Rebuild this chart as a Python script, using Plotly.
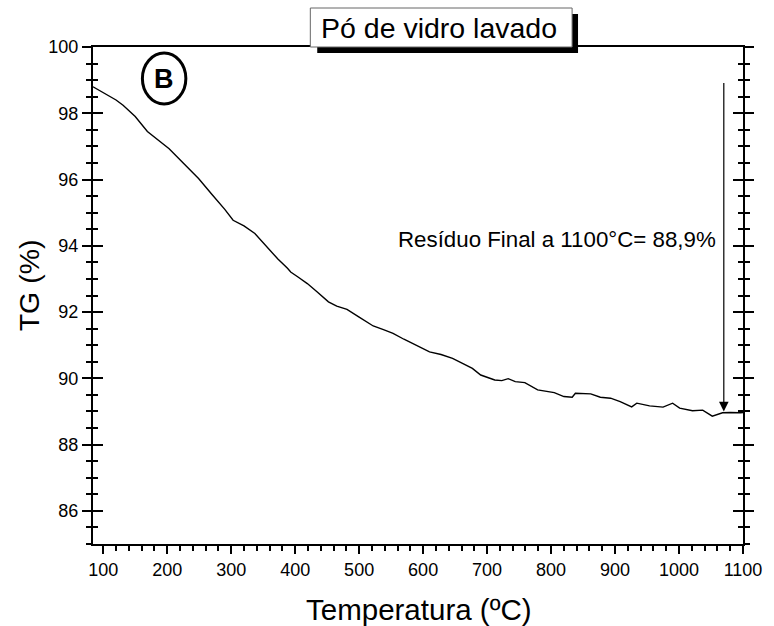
import plotly.graph_objects as go

# ---- data ----
temperature = [84, 100, 120, 131, 150, 169, 185, 203, 225, 249, 270, 290, 303, 320, 337,
               360, 373, 388, 393, 405, 419, 435, 452, 465, 481, 500, 522, 538, 553, 570,
               584, 597, 610, 628, 646, 660, 677, 690, 705, 712, 723, 733, 744, 759, 779,
               805, 820, 833, 838, 862, 877, 893, 908, 926, 934, 954, 975, 990, 1001, 1021,
               1037, 1052, 1068, 1080, 1096, 1100]
tg = [98.80, 98.62, 98.40, 98.24, 97.90, 97.45, 97.20, 96.93, 96.50, 96.03, 95.55, 95.10, 94.77,
      94.60, 94.37, 93.87, 93.60, 93.32, 93.21, 93.05, 92.86, 92.60, 92.31, 92.18, 92.08, 91.85,
      91.58, 91.47, 91.36, 91.18, 91.05, 90.92, 90.80, 90.72, 90.60, 90.47, 90.30, 90.10, 90.00,
      89.95, 89.93, 89.99, 89.90, 89.87, 89.65, 89.57, 89.45, 89.43, 89.55, 89.53, 89.43, 89.40,
      89.30, 89.14, 89.25, 89.17, 89.13, 89.25, 89.10, 89.02, 89.04, 88.86, 88.96, 88.97, 88.96,
      88.97]
x_ticks = list(range(100, 1101, 100))
y_ticks = list(range(86, 101, 2))
x_range = [84, 1100]
y_range = [85, 100]
arrow_x = 1070
arrow_tip = 89.0
arrow_top = 98.96

title_text = "Pó de vidro lavado"
x_title = "Temperatura (ºC)"
y_title = "TG (%)"
residue_text = "Resíduo Final a 1100°C= 88,9%"
panel_label = "B"

# ---- layout geometry (pixels) ----
W_FIG, H_FIG = 774, 626
L, R, T, B = 93, 751, 47, 544
PW, PH = R - L, B - T


def px(x):
    return (x - L) / PW


def py(y):
    return (B - y) / PH


FONT = "Liberation Sans, Arial, sans-serif"

fig = go.Figure()
fig.add_trace(go.Scatter(x=temperature, y=tg, mode="lines",
                         line=dict(color="black", width=1.4),
                         showlegend=False, hoverinfo="skip"))
fig.add_trace(go.Scatter(x=temperature, y=tg, mode="lines", yaxis="y2",
                         line=dict(color="rgba(0,0,0,0)", width=0),
                         showlegend=False, hoverinfo="skip"))

fig.update_layout(
    width=W_FIG, height=H_FIG,
    margin=dict(l=L, r=W_FIG - R, t=T, b=H_FIG - B, pad=0),
    paper_bgcolor="white", plot_bgcolor="white",
    xaxis=dict(range=x_range, tickvals=x_ticks, ticks="outside", ticklen=8,
               tickwidth=2, tickcolor="black",
               minor=dict(dtick=20, tick0=0, ticks="outside", ticklen=5,
                          tickwidth=1.5, tickcolor="black"),
               showline=True, linecolor="black", linewidth=2, mirror=True,
               showgrid=False, zeroline=False,
               tickfont=dict(family=FONT, size=18, color="black")),
    yaxis=dict(range=y_range, tickvals=y_ticks, ticks="outside", ticklen=9,
               tickwidth=2, tickcolor="black",
               minor=dict(dtick=0.5, tick0=0, ticks="outside", ticklen=5,
                          tickwidth=1.5, tickcolor="black"),
               showline=True, linecolor="black", linewidth=2, mirror="ticks",
               showgrid=False, zeroline=False,
               tickfont=dict(family=FONT, size=18, color="black")),
    yaxis2=dict(range=y_range, overlaying="y", side="left", tickvals=y_ticks,
                ticks="inside", ticklen=10, tickwidth=2, tickcolor="black",
                minor=dict(dtick=0.5, tick0=0, ticks="inside", ticklen=5,
                           tickwidth=1.5, tickcolor="black"),
                showline=True, linecolor="black", linewidth=2, mirror="ticks",
                showgrid=False, zeroline=False, showticklabels=False),
    shapes=[
        dict(type="rect", xref="paper", yref="paper",
             x0=px(320), x1=px(584), y0=py(53), y1=py(14),
             fillcolor="black", line=dict(width=0), layer="above"),
        dict(type="rect", xref="paper", yref="paper",
             x0=px(313), x1=px(578), y0=py(47), y1=py(8),
             fillcolor="white", line=dict(color="#666666", width=1), layer="above"),
        dict(type="circle", xref="paper", yref="paper",
             x0=px(143), x1=px(187), y0=py(104), y1=py(53),
             line=dict(color="black", width=3), layer="above"),
    ],
    annotations=[
        dict(text=x_title, xref="paper", yref="paper", x=px(423), y=py(609),
             showarrow=False, xanchor="center", yanchor="middle",
             font=dict(family=FONT, size=29.5, color="black")),
        dict(text=y_title, xref="paper", yref="paper", x=px(28.5), y=py(285),
             showarrow=False, xanchor="center", yanchor="middle", textangle=-90,
             font=dict(family=FONT, size=28.5, color="black")),
        dict(text=title_text, xref="paper", yref="paper", x=px(443.5), y=py(28),
             showarrow=False, xanchor="center", yanchor="middle",
             font=dict(family=FONT, size=28.5, color="black")),
        dict(text="<b>" + panel_label + "</b>", xref="paper", yref="paper",
             x=px(165), y=py(79), showarrow=False, xanchor="center", yanchor="middle",
             font=dict(family=FONT, size=27, color="black")),
        dict(text=residue_text, xref="paper", yref="paper", x=px(726), y=py(239),
             showarrow=False, xanchor="right", yanchor="middle",
             font=dict(family=FONT, size=22.3, color="black")),
        dict(text="", x=arrow_x, y=arrow_tip, xref="x", yref="y",
             ax=arrow_x, ay=arrow_top, axref="x", ayref="y",
             showarrow=True, arrowhead=2, arrowsize=1.6, arrowwidth=1.2,
             arrowcolor="black", standoff=0),
    ],
)

fig.write_html("out.html")
